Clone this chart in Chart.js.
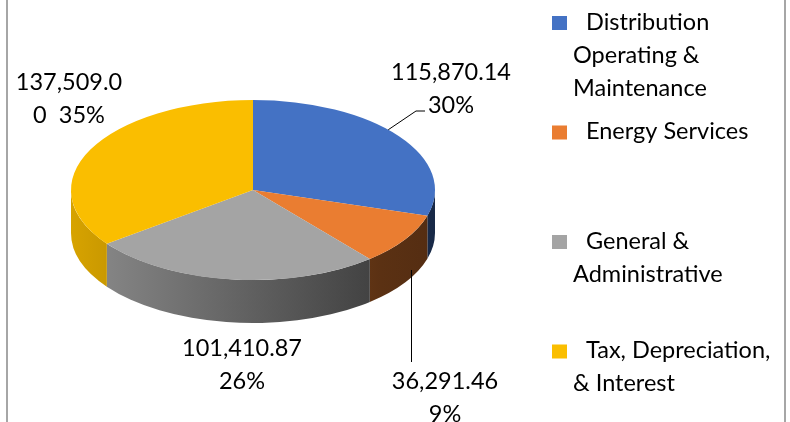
<!DOCTYPE html>
<html>
<head>
<meta charset="utf-8">
<script src="https://cdn.jsdelivr.net/npm/chart.js@4.4.1/dist/chart.umd.min.js"></script>
<style>
  html, body { margin: 0; padding: 0; background: #fff; }
  canvas { display: block; }
</style>
</head>
<body>
<canvas id="costChart" width="790" height="422"></canvas>
<script>
// chart data
const categories = [
    ['Distribution', 'Operating &', 'Maintenance'],
    ['Energy Services'],
    ['General &', 'Administrative'],
    ['Tax, Depreciation,', '& Interest']
];
const costValues = [115870.14, 36291.46, 101410.87, 137509.00];
const sliceColors = ['#4472c4', '#ea7d31', '#a4a4a4', '#fabe00'];

// look of the fake 3D pie
const TILT = 90 / 182;   // vertical squash of the top face
const DEPTH = 43;        // thickness of the side wall
const FONT = '23.5px Lato';
const LINE_H = 33;

// where each data label sits, relative to the pie centre
const labelOffsets = [
    { dx: 198, dy: -118, wrapAt: 0 },
    { dx: 192, dy: 191, wrapAt: 0 },
    { dx: -11, dy: 158, wrapAt: 0 },
    { dx: -184, dy: -108, wrapAt: 9 }
];

function shade(hex, f) {
    const n = parseInt(hex.slice(1), 16);
    const r = Math.round(((n >> 16) & 255) * f);
    const g = Math.round(((n >> 8) & 255) * f);
    const b = Math.round((n & 255) * f);
    return `rgb(${r},${g},${b})`;
}

function fmtValue(v) {
    return v.toLocaleString('en-US', { minimumFractionDigits: 2, maximumFractionDigits: 2 });
}

// side walls + squashing of the top face
const pie3d = {
    id: 'pie3d',
    beforeDatasetsDraw(chart) {
        const ctx = chart.ctx;
        const meta = chart.getDatasetMeta(0);
        const { x: cx, y: cy, outerRadius: r } = meta.data[0];
        const ry = r * TILT;

        meta.data.forEach((arc, i) => {
            const s = Math.max(arc.startAngle, 0);
            const e = Math.min(arc.endAngle, Math.PI);
            if (e <= s) return;
            const color = sliceColors[i];
            const grad = ctx.createLinearGradient(cx - r, 0, cx + r, 0);
            grad.addColorStop(0, shade(color, 0.86));
            grad.addColorStop(0.85, shade(color, 0.39));
            grad.addColorStop(1, shade(color, 0.36));
            ctx.save();
            ctx.beginPath();
            ctx.ellipse(cx, cy, r, ry, 0, s, e);
            ctx.lineTo(cx + r * Math.cos(e), cy + ry * Math.sin(e) + DEPTH);
            ctx.ellipse(cx, cy + DEPTH, r, ry, 0, e, s, true);
            ctx.closePath();
            ctx.fillStyle = grad;
            ctx.fill();
            ctx.restore();
        });

        ctx.save();
        ctx.translate(cx, cy);
        ctx.scale(1, TILT);
        ctx.translate(-cx, -cy);
    },
    afterDatasetsDraw(chart) {
        chart.ctx.restore();
    }
};

// data labels with leader lines
const pieLabels = {
    id: 'pieLabels',
    afterDraw(chart) {
        const ctx = chart.ctx;
        const meta = chart.getDatasetMeta(0);
        const { x: cx, y: cy, outerRadius: r } = meta.data[0];
        const ry = r * TILT;
        const total = costValues.reduce((a, b) => a + b, 0);

        ctx.save();
        ctx.font = FONT;
        ctx.fillStyle = '#000';
        ctx.textAlign = 'center';
        ctx.textBaseline = 'middle';

        costValues.forEach((v, i) => {
            const pct = Math.round(v / total * 100) + '%';
            const val = fmtValue(v);
            const off = labelOffsets[i];
            let lines = [val, pct];
            if (off.wrapAt) lines = [val.slice(0, off.wrapAt), val.slice(off.wrapAt) + '  ' + pct];
            lines.forEach((t, k) => {
                ctx.fillText(t, cx + off.dx, cy + off.dy + k * LINE_H);
            });
        });

        // leader lines for the two right-hand slices
        ctx.strokeStyle = '#000';
        ctx.lineWidth = 1;
        const a0 = meta.data[0];
        const m0 = a0.startAngle + (a0.endAngle - a0.startAngle) * 0.45;
        ctx.beginPath();
        ctx.moveTo(cx + r * Math.cos(m0), cy + ry * Math.sin(m0));
        ctx.lineTo(cx + 163, cy - 79);
        ctx.lineTo(cx + 172, cy - 79);
        ctx.stroke();

        const a1 = meta.data[1];
        const m1 = a1.startAngle + (a1.endAngle - a1.startAngle) * 0.4;
        const lx = Math.round(cx + r * Math.cos(m1)) + 0.5;
        ctx.beginPath();
        ctx.moveTo(lx, cy + ry * Math.sin(m1) + DEPTH - 8);
        ctx.lineTo(lx, cy + 172);
        ctx.stroke();
        ctx.restore();
    }
};

// legend on the right, one block per category
const sideLegend = {
    id: 'sideLegend',
    afterDraw(chart) {
        const ctx = chart.ctx;
        ctx.save();
        ctx.font = FONT;
        ctx.textBaseline = 'middle';
        ctx.textAlign = 'left';
        categories.forEach((lines, i) => {
            const y = 22 + i * 109.5;
            ctx.fillStyle = sliceColors[i];
            ctx.fillRect(552, y - 6, 15, 14);
            ctx.fillStyle = '#000';
            lines.forEach((t, k) => {
                ctx.fillText(t, k === 0 ? 586 : 573, y + k * LINE_H);
            });
        });
        ctx.restore();
    }
};

// grey frame lines left and right
const frame = {
    id: 'frame',
    beforeDraw(chart) {
        const ctx = chart.ctx;
        ctx.save();
        ctx.fillStyle = '#fff';
        ctx.fillRect(0, 0, chart.width, chart.height);
        ctx.fillStyle = '#a6a6a6';
        ctx.fillRect(6, 0, 2, chart.height);
        ctx.fillRect(784, 0, 2, chart.height);
        ctx.restore();
    }
};

const ctx = document.getElementById('costChart').getContext('2d');

const costChart = new Chart(ctx, {
    type: 'pie',
    data: {
        labels: categories,
        datasets: [{
            data: costValues,
            backgroundColor: sliceColors,
            borderWidth: 0,
            clip: false
        }]
    },
    options: {
        responsive: false,
        animation: false,
        layout: {
            padding: { left: 71, right: 355, top: 8, bottom: 50 }
        },
        plugins: {
            legend: { display: false },
            tooltip: { enabled: false }
        }
    },
    plugins: [frame, pie3d, pieLabels, sideLegend]
});
</script>
</body>
</html>
